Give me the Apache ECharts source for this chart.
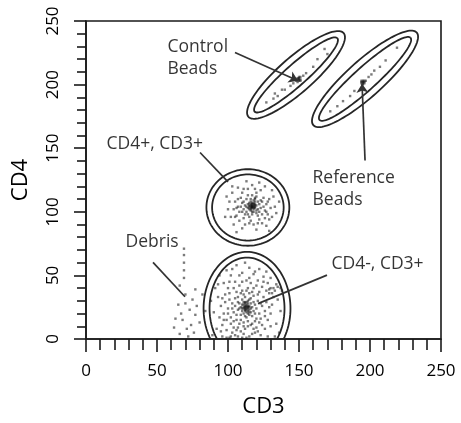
<!DOCTYPE html>
<html><head><meta charset="utf-8">
<script src="https://cdn.jsdelivr.net/npm/echarts@6/dist/echarts.min.js"></script>
<style>html,body{margin:0;padding:0;background:#fff}#c{width:461px;height:423px}</style>
</head><body><div id="c"></div>
<script>
// ---- data (CD3 on x, CD4 on y) ----
const xName = 'CD3';
const yName = 'CD4';
const axisTicks = [0, 50, 100, 150, 200, 250];

const cd4negCD3pos = [
 [113,25],[112,24],[114,26],[111,27],[115,23],[110,22],[116,28],[113,21],[112,29],[114,30],[109,25],[117,25],[111,20],[115,19],[108,28],[118,22],[110,31],[116,32],[113,17],[107,23],[119,27],[112,33],[106,19],[120,24],[109,15],[114,14],[105,26],[117,18],[111,35],[121,30],[104,21],[118,34],[108,12],[115,36],[103,28],[122,20],[107,33],[116,11],[102,17],[119,14],
 [100,24],[101,31],[99,15],[124,26],[125,33],[123,16],[110,38],[114,40],[106,37],[118,40],[104,9],[112,8],[120,9],[98,29],[126,22],[101,36],[122,37],[108,42],[116,44],[97,20],[127,29],[103,5],[111,4],[119,5],[96,11],[128,15],[100,40],[124,41],[105,45],[113,46],[121,46],[95,26],[129,36],[99,7],[126,8],[107,2],[115,2],[123,3],[94,17],[130,20],
 [93,33],[92,8],[131,27],[132,40],[128,44],[97,44],[102,50],[110,52],[118,51],[125,49],[90,21],[134,12],[135,31],[91,40],[99,54],[115,56],[122,55],[130,48],[89,3],[136,5],[96,2],[133,2],[106,58],[127,53],[138,38],[137,22],[88,30],[94,50],
 [130,40],[133,38],[135,41],[137,40],[131,36],[129,39],[134,43],
 [105,3],[109,6],[113,1],[117,4],[101,1],[111,10],[106,7],
 [109,19],[116,21],[110,27],[114,20],[118,29],[108,24],[112,18],[115,31],[107,29],[119,20],[111,13],[117,12],[106,15],[120,16],[105,32],[121,35],[109,36],[113,38],[117,37],[103,24],[123,28],[102,12],[124,11],[100,20],[126,18],[104,40],[120,42],[110,45],[115,48],[98,35],[127,38],[101,45],[125,45],[96,32],[129,25],[95,6],[130,10],[108,50],[119,53],[103,55],[112,60],[93,43],[132,33],[97,15],[128,2],[121,6],[110,1],[104,14],[118,8],[114,10],[107,9],[99,1],[122,13],[102,2],
 [113,24],[114,25],[112,26],[113,26],[114,24],[112,25],[111,24],[115,26],[113,23],[112,23],
 [113,27],[111,25],[115,25],[114,28],[112,22],[110,24],[116,24],[113,29],[111,29],[115,21],[114,22],[112,28]
];
const cd4posCD3pos = [
 [117,104],[116,103],[118,105],[115,105],[119,103],[117,106],[116,101],[118,102],[114,103],[120,105],[117,100],[115,107],[119,108],[121,102],[113,100],[118,109],[122,106],[112,105],[116,110],[120,99],[114,98],[123,103],[111,102],[119,111],[115,96],[124,108],[110,107],[121,97],[117,113],[113,110],
 [108,100],[109,111],[126,101],[125,111],[107,104],[127,106],[111,95],[122,94],[116,93],[110,115],[120,115],[128,98],[106,97],[105,108],[129,110],[118,90],[112,90],[124,91],[114,118],[123,117],[104,102],[130,103],[108,93],[126,95],
 [102,96],[101,108],[103,115],[131,96],[132,112],[107,119],[117,121],[126,120],[100,102],[133,104],[110,87],[120,86],[127,89],[99,112],[134,99],[104,90],[113,124],[122,123],[98,96],[136,108],[106,84],[129,85],[103,120],[131,117],
 [115,102],[119,106],[114,106],[120,101],[116,108],[118,100],[113,104],[121,108],[112,98],[122,100],[117,98],[119,110],[111,108],[123,109],[110,100],[124,98],[114,113],[120,112],[109,104],[125,104],[107,110],[127,100],[115,91],[121,91],[106,103],[128,108],[111,118],[119,118],[105,96],[129,94],
 [117,104],[118,104],[116,105],[117,103],[118,106],[116,104],[119,104],[117,105],
 [117,104],[118,103],[116,106],[119,105],[117,107],[115,104],[118,107],[116,102]
];
const controlBeads = [
 [149,204],[150,205],[148,203],[151,204],[150,206],[149,202],[150,203],[151,206],[149,205],[150,204],[148,204],[151,203],
 [132,189],[133,193],[138,196],[144,199],[168,228],[170,224],[140,196],[155,209],[160,214],[127,186],[163,220],[135,191],[146,201],[153,207]
];
const referenceBeads = [
 [195,202],[196,203],[194,201],[195,200],[197,203],[196,201],[194,203],[195,203],[196,202],[194,202],[195,201],
 [207,214],[201,208],[219,229],[186,191],[177,183],[172,179],[189,195],[211,219],[181,187],[203,211],[199,206]
];
const debris = [
 [69,71],[69,66],[69,60],[69,54],[69,48],[66,42],[70,35],[65,27],[73,23],[68,15],[71,8],[77,19],[80,13],[66,4],[77,39],[75,31],[62,9],[72,2],
 [67,20],[74,11],[70,28],[78,26],[82,35],[63,16],[76,5],[84,22]
];

// contour ellipses: [centre CD3, centre CD4, semi-axis a, semi-axis b, angle (deg)]
const contours = [
 [114,103.4,29.2,30.1,0],[114,103.4,25.2,26.0,0],
 [113.4,24,30.6,44.5,0],[113.4,24,26.4,40.0,0],
 [147.9,207.6,47,13,45],[147.9,207.6,41,8,45],
 [196.5,204.5,51.5,13.5,45.5],[196.5,204.5,45.5,8.5,45.5]
];

// annotation labels and pointer lines (data units)
const labelNames = ['Control\nBeads','CD4+, CD3+','Reference\nBeads','Debris','CD4-, CD3+'];
const labelPos = [[57.0,220.7],[14.1,153.5],[159.2,118],[27.5,76.4],[172.5,58.6]];
const pointerFrom = [[104.9,225.3],[80.3,146.6],[196.5,140.4],[47.2,60.2],[169.7,50.2]];
const pointerTo = [[149.3,203.0],[100,123.5],[194.4,200.6],[69.7,33.2],[121.1,27.8]];
const pointerArrow = [true,false,true,false,false];

const FONT = 'Open Sans';
const TXT = '#000';
const chart = echarts.init(document.getElementById('c'));

function renderEllipse(params, api){
  const cx=api.value(0), cy=api.value(1), a=api.value(2), b=api.value(3), ang=api.value(4)*Math.PI/180;
  const pts=[];
  for(let i=0;i<=120;i++){
    const t=i/120*2*Math.PI;
    const dx=a*Math.cos(t), dy=b*Math.sin(t);
    pts.push(api.coord([cx+dx*Math.cos(ang)-dy*Math.sin(ang), cy+dx*Math.sin(ang)+dy*Math.cos(ang)]));
  }
  const cs=params.coordSys;
  return {type:'polyline', shape:{points:pts},
    style:{stroke:'#262626', lineWidth:1.8, fill:null},
    clipPath:{type:'rect', shape:{x:cs.x,y:cs.y,width:cs.width,height:cs.height}}};
}

const dotStyle = {color:'rgba(20,20,20,0.7)'};
function dots(d){ return {type:'scatter', data:d, symbol:'rect', symbolSize:2.4, itemStyle:dotStyle, silent:true}; }

const axisCommon = {
  type:'value', min:0, max:250, interval:50,
  axisLine:{show:true, lineStyle:{color:'#1a1a1a', width:1.6}},
  axisTick:{show:true, inside:false, lineStyle:{color:'#1a1a1a', width:1.6}},
  minorTick:{show:true, splitNumber:5, lineStyle:{color:'#1a1a1a', width:1.6}},
  splitLine:{show:false},
  nameLocation:'middle',
  nameTextStyle:{fontFamily:FONT, fontSize:22, color:TXT}
};

chart.setOption({
  animation:false,
  backgroundColor:'#fff',
  grid:{left:86, right:20, top:21, bottom:78, show:true, borderColor:'#1a1a1a', borderWidth:1.6},
  xAxis:Object.assign({}, axisCommon, {
    name:xName, nameGap:57,
    axisTick:Object.assign({}, axisCommon.axisTick, {length:13}),
    minorTick:Object.assign({}, axisCommon.minorTick, {length:11}),
    axisLabel:{fontFamily:FONT, fontSize:17, color:TXT, margin:24,
      formatter:v=>axisTicks.includes(v)?String(v):''}
  }),
  yAxis:Object.assign({}, axisCommon, {
    name:yName, nameGap:54,
    axisTick:Object.assign({}, axisCommon.axisTick, {length:12}),
    minorTick:Object.assign({}, axisCommon.minorTick, {length:9}),
    axisLabel:{fontFamily:FONT, fontSize:17, color:TXT, margin:24, rotate:90,
      formatter:v=>axisTicks.includes(v)?String(v):''}
  }),
  series:[
    {type:'custom', renderItem:renderEllipse, data:contours, encode:{x:0,y:1}, silent:true, z:3},
    dots(cd4negCD3pos), dots(cd4posCD3pos), dots(controlBeads), dots(referenceBeads), dots(debris),
    {type:'scatter', symbolSize:1, itemStyle:{color:'rgba(0,0,0,0)'}, silent:true, z:5,
     data:labelNames.map((n,i)=>({name:n, value:labelPos[i]})),
     label:{show:true, position:'right', distance:0, formatter:'{b}', fontFamily:FONT, fontSize:17.5, lineHeight:22, color:TXT, align:'left'},
     markLine:{silent:true, symbol:['none','none'], symbolSize:9, label:{show:false},
       lineStyle:{color:'#333', width:1.7, type:'solid'},
       data:pointerFrom.map((f,i)=>[{coord:f},{coord:pointerTo[i], symbol:pointerArrow[i]?'arrow':'none'}])}
    }
  ]
});
</script></body></html>
